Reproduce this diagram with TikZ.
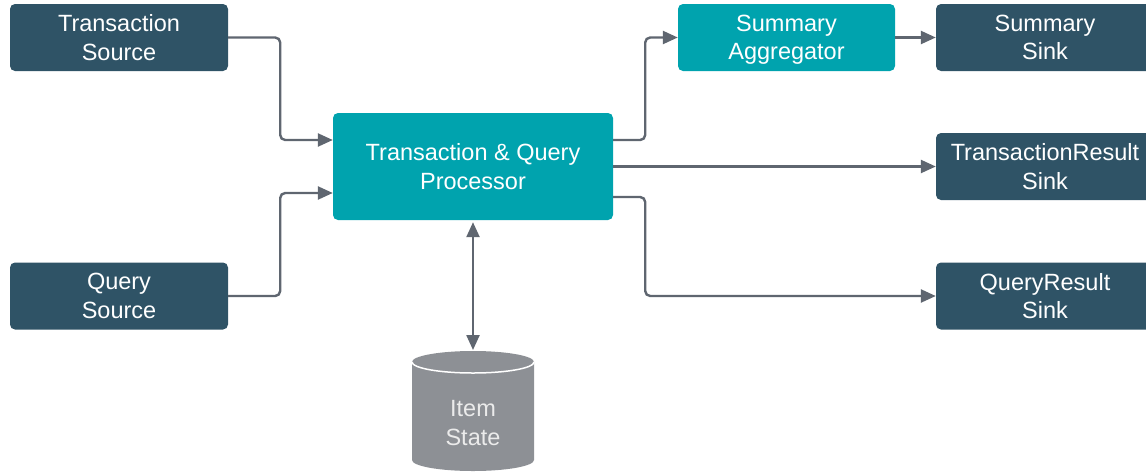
\documentclass[tikz,border=0pt]{standalone}
\usepackage{fontspec}
\setmainfont{Liberation Sans}
\usetikzlibrary{arrows.meta}
\definecolor{slatebox}{HTML}{2F5366}
\definecolor{procteal}{HTML}{00A3AE}
\definecolor{linegray}{HTML}{5F6670}
\definecolor{cylgray}{HTML}{8D9095}
\tikzset{
  x=1pt, y=1pt,
  boxfont/.style={font=\fontsize{23.5}{28.5}\selectfont},
  box/.style={rounded corners=5pt, minimum height=67pt, text=white, align=center,
    inner sep=0pt, boxfont},
  sinkbox/.style={box, fill=slatebox, minimum width=218pt},
  tealbox/.style={box, fill=procteal},
  conn/.style={draw=linegray, line width=2.4pt, rounded corners=5pt,
    -{Triangle[length=15pt,width=13pt]}},
  twoway/.style={draw=linegray, line width=2.4pt,
    {Triangle[length=15pt,width=13pt]}-{Triangle[length=15pt,width=13pt]}},
}
\begin{document}
\begin{tikzpicture}
\useasboundingbox (0,0) rectangle (1146,-472);
\clip (0,0) rectangle (1146,-472);

% sources
\node[sinkbox] (ts) at (119,-37.5) {Transaction\\Source};
\node[sinkbox] (qs) at (119,-296) {Query\\Source};

% processing
\node[tealbox, minimum width=280pt, minimum height=107pt] (proc) at (473,-166.5)
  {Transaction \& Query\\Processor};
\node[tealbox, minimum width=217pt] (sa) at (786.5,-37.5) {Summary\\\smash{Aggregator}};

% sinks
\node[sinkbox] (ss) at (1045,-37.5) {Summary\\Sink};
\node[sinkbox] (trs) at (1045,-166.5) {TransactionResult\\Sink};
\node[sinkbox] (qrs) at (1045,-296) {QueryResult\\Sink};

% state store
\fill[cylgray] (412,-362) -- (412,-460)
  arc[start angle=180, end angle=360, x radius=61, y radius=11]
  -- (534,-362)
  arc[start angle=0, end angle=180, x radius=61, y radius=11] -- cycle;
\draw[white, line width=1.5pt] (412,-362)
  arc[start angle=180, end angle=360, x radius=61, y radius=11];
\coordinate (dbtop) at (473,-350);
\node[text=white!92!black, align=center, boxfont] (db) at (473,-423) {Item\\State};

% connectors
\draw[conn] (ts.east) -- ++(52,0) |- ([yshift=26.5pt]proc.west);
\draw[conn] (qs.east) -- ++(52,0) |- ([yshift=-26.5pt]proc.west);
\draw[conn] ([yshift=26.5pt]proc.east) -- ++(32,0) |- (sa.west);
\draw[conn] (sa.east) -- (ss.west);
\draw[conn] (proc.east) -- (trs.west);
\draw[conn] ([yshift=-30.5pt]proc.east) -- ++(32,0) |- (qrs.west);
\draw[twoway] ([yshift=-2pt]proc.south) -- (dbtop);
\end{tikzpicture}
\end{document}
